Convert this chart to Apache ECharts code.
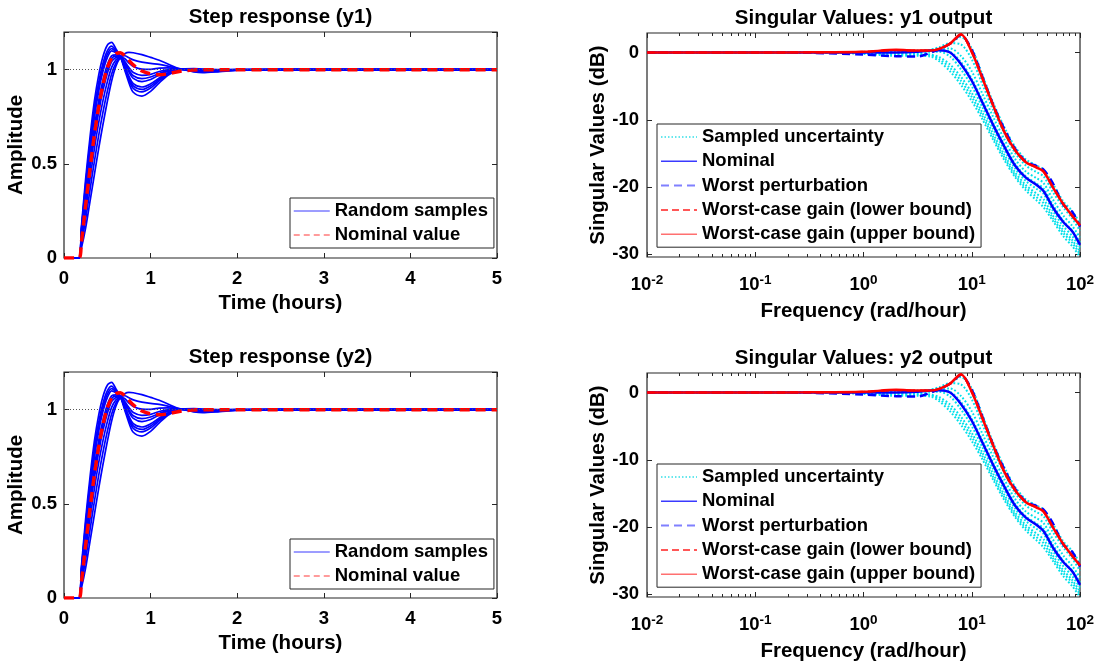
<!DOCTYPE html>
<html>
<head>
<meta charset="utf-8">
<script src="https://cdn.jsdelivr.net/npm/echarts@6/dist/echarts.min.js"></script>
<style>
html,body{margin:0;padding:0;background:#ffffff;}
#chart{width:1104px;height:664px;}
</style>
</head>
<body>
<div id="chart"></div>
<script>
// ---------------- DATA ----------------
// Step responses (time in hours)
const stepTime = [0, 0.17, 0.2, 0.25, 0.3, 0.35, 0.4, 0.45, 0.5, 0.55, 0.6, 0.65, 0.7, 0.75, 0.8, 0.9, 1.0, 1.1, 1.2, 1.3, 1.4, 1.5, 1.6, 1.8, 2.0, 2.5, 3, 4, 5];
const randomSamples = [
  [0,0,.16,.42,.64,.83,.97,1.07,1.13,1.145, 1.11,1.07,1.00,.93,.88,.86,.885,.93,.97,.995, 1.005,1.006,1.003,1.0,1.0,1,1,1,1],
  [0,0,.149,.394,.606,.791,.931,1.034,1.10,1.125, 1.101,1.07,1.009,.946,.901,.882,.903,.942,.976,.997, 1.004,1.004,1.001,.999,1.0,1,1,1,1],
  [0,0,.142,.378,.586,.768,.908,1.012,1.082,1.112, 1.096,1.069,1.014,.956,.914,.895,.914,.949,.98,.997, 1.004,1.003,1.0,.998,1.0,1,1,1,1],
  [0,0,.136,.363,.565,.744,.884,.991,1.064,1.10, 1.09,1.069,1.020,.966,.926,.908,.925,.956,.983,.998, 1.003,1.002,.999,.998,.999,1,1,1,1],
  [0,0,.122,.329,.521,.694,.834,.944,1.025,1.073, 1.079,1.068,1.032,.987,.954,.937,.948,.972,.991,1.0, 1.003,1.0,.996,.997,.999,1,1,1,1],
  [0,0,.114,.311,.497,.666,.806,.919,1.004,1.059, 1.072,1.068,1.038,.998,.968,.952,.961,.98,.995,1.001, 1.002,.998,.995,.996,.999,1,1,1,1],
  [0,0,.105,.29,.47,.635,.775,.89,.98,1.043, 1.065,1.068,1.045,1.011,.985,.97,.975,.99,1.0,1.003, 1.002,.997,.994,.995,.998,1,1,1,1],
  [0,0,.089,.251,.419,.577,.717,.836,.935,1.012, 1.052,1.067,1.059,1.035,1.017,1.003,1.002,1.008,1.009,1.005, 1.0,.994,.991,.994,.998,1,1,1,1],
  [0,0,.07,.207,.361,.510,.650,.775,.884,.977, 1.036,1.066,1.074,1.063,1.052,1.040,1.033,1.028,1.019,1.007, .999,.991,.987,.992,.997,1,1,1,1],
  [0,0,.05,.16,.30,.44,.58,.71,.83,.94, 1.02,1.065,1.085,1.092,1.09,1.08,1.065,1.05,1.03,1.01, .998,.988,.984,.99,.997,1,1,1,1]
];
const nominalStep = [0,0,.08,.28,.47,.65,.80,.92,1.01,1.06, 1.085,1.09,1.075,1.05,1.025,.993,.978,.973,.978,.988, .995,.998,1.0,1.0,1.0,1,1,1,1];
const steadyStateValue = 1;
const stepTimeTicks = [0, 1, 2, 3, 4, 5];
const stepAmpTicks = [0, 0.5, 1];

// Singular values (frequency in rad/hour, values in dB)
const svFreq = [0.01, 0.1, 0.316, 1, 2, 3.16, 4.17, 5.01, 6.31, 7.94, 10, 12.6, 15.8, 20, 25.1, 31.6, 39.8, 46, 56, 70, 85, 100];
const sampledUncertainty = [
  [0,0,0,-0.2,-0.5,-0.5,-0.6,-1.3,-2.8,-4.8,-7.2,-10.0,-13.0,-16.0,-18.5,-20.5,-22.0,-23.0,-25.0,-27.3,-28.8,-30.4],
  [0,0,0,-0.1,-0.3,-0.3,-0.4,-1.0,-2.3,-4.2,-6.6,-9.5,-12.6,-15.6,-18.2,-20.1,-21.5,-22.4,-24.6,-26.8,-28.3,-30.0],
  [0,0,0,-0.1,-0.2,-0.2,-0.3,-0.7,-1.8,-3.6,-6.0,-9.0,-12.1,-15.2,-17.8,-19.7,-21.0,-21.8,-24.2,-26.4,-27.9,-29.6],
  [0,0,0,0,-0.1,0,0.1,0.1,-0.6,-2.5,-5.0,-8.2,-11.4,-14.5,-17.2,-19.1,-20.3,-21.0,-23.5,-25.8,-27.3,-29.0],
  [0,0,0,0,0.1,0.2,0.3,0.4,0.1,-1.4,-3.9,-7.2,-10.5,-13.7,-16.5,-18.4,-19.5,-20.2,-22.6,-25.0,-26.5,-28.2],
  [0,0,0,0,0.1,0.2,0.4,0.6,0.6,-0.5,-2.8,-6.2,-9.6,-12.9,-15.8,-17.7,-18.7,-19.4,-21.8,-24.2,-25.8,-27.5],
  [0,0,0,0.1,0.2,0.2,0.4,0.8,1.4,1.2,-1.0,-4.8,-8.6,-12.0,-14.9,-16.8,-17.8,-18.4,-20.7,-23.0,-24.7,-26.5],
  [0,0,0,0.05,0.3,0.3,0.3,0.6,1.3,2.3,0.6,-3.4,-7.5,-11.1,-14.0,-15.9,-16.8,-17.4,-19.5,-22.1,-23.6,-25.4]
];
const nominalSV = [0,0,0,0,0,0.1,0.3,0.35,0.0,-1.7,-4.2,-7.5,-10.8,-14.0,-16.8,-18.6,-19.7,-20.6,-23.0,-25.2,-26.6,-28.6];
const worstPerturbation = [0,0,-0.05,-0.3,-0.55,-0.6,0.0,0.5,1.3,2.6,0.4,-3.7,-7.8,-11.4,-14.3,-16.2,-16.9,-17.4,-19.4,-22.6,-23.7,-25.9];
const worstLower = [0,0,0.02,0.1,0.35,0.3,0.3,0.55,1.3,2.65,0.1,-3.9,-7.9,-11.8,-14.5,-16.3,-17.1,-17.7,-20.0,-22.5,-24.3,-25.7];
const worstUpper = [0,0,0.02,0.1,0.4,0.3,0.3,0.55,1.35,2.7,0.1,-3.9,-7.9,-11.8,-14.5,-16.3,-17.1,-17.7,-20.0,-22.5,-24.3,-25.7];
const svFreqTicks = [0.01, 0.1, 1, 10, 100];
const svFreqTickExp = ['-2', '-1', '0', '1', '2'];
const svDbTicks = [-30, -20, -10, 0];

const titles = ['Step response (y1)', 'Singular Values: y1 output', 'Step response (y2)', 'Singular Values: y2 output'];

// ---------------- STYLE / LAYOUT ----------------
const FONT = '"Liberation Sans", Arial, Helvetica, sans-serif';
const AXC = '#262626';
const TXT = '#000000';
const gridBoxes = [
  {left: 64, top: 32, width: 433, height: 226},
  {left: 647, top: 33, width: 433, height: 224},
  {left: 64, top: 372, width: 433, height: 226},
  {left: 647, top: 373, width: 433, height: 224}
];
const labelFont = {fontFamily: FONT, fontSize: 18.5, fontWeight: 'bold', color: TXT};
const nameFont = {fontFamily: FONT, fontSize: 20.5, fontWeight: 'bold', color: TXT};

function tickStyle(len) { return {show: true, inside: true, length: len, lineStyle: {color: AXC, width: 1}}; }
const hiddenLine = {show: false, onZero: false};

function stepXAxis(g, mirror) {
  return {
    type: 'value', gridIndex: g, position: mirror ? 'top' : 'bottom',
    min: stepTimeTicks[0], max: stepTimeTicks[stepTimeTicks.length - 1], interval: 1,
    name: mirror ? '' : 'Time (hours)', nameLocation: 'middle', nameGap: 35, nameTextStyle: nameFont,
    axisLine: hiddenLine, axisTick: tickStyle(5), splitLine: {show: false},
    axisLabel: Object.assign({show: !mirror, margin: 11}, labelFont)
  };
}
function stepYAxis(g, mirror) {
  return {
    type: 'value', gridIndex: g, position: mirror ? 'right' : 'left',
    min: 0, max: 1.2, interval: 0.5,
    name: mirror ? '' : 'Amplitude', nameLocation: 'middle', nameGap: 37, nameTextStyle: nameFont,
    axisLine: hiddenLine, axisTick: tickStyle(5), splitLine: {show: false},
    axisLabel: Object.assign({show: !mirror, margin: 7,
      formatter: function (v) { return stepAmpTicks.some(t => Math.abs(t - v) < 1e-9) ? String(v) : ''; }}, labelFont)
  };
}
function svXAxis(g, mirror) {
  return {
    type: 'log', logBase: 10, gridIndex: g, position: mirror ? 'top' : 'bottom',
    min: svFreqTicks[0], max: svFreqTicks[svFreqTicks.length - 1],
    name: mirror ? '' : 'Frequency (rad/hour)', nameLocation: 'middle', nameGap: 44, nameTextStyle: nameFont,
    axisLine: hiddenLine, axisTick: tickStyle(5),
    minorTick: {show: true, splitNumber: 9, length: 3, lineStyle: {color: AXC, width: 1}},
    splitLine: {show: false}, minorSplitLine: {show: false},
    axisLabel: {
      show: !mirror, margin: 16,
      formatter: function (v) {
        for (let i = 0; i < svFreqTicks.length; i++) {
          if (Math.abs(Math.log10(v) - Math.log10(svFreqTicks[i])) < 1e-6) return '{b|10}{s|' + svFreqTickExp[i] + '}';
        }
        return '';
      },
      rich: {
        b: {fontFamily: FONT, fontSize: 18.5, fontWeight: 'bold', color: TXT},
        s: {fontFamily: FONT, fontSize: 13.5, fontWeight: 'bold', color: TXT, padding: [0, 0, 9, 0]}
      }
    }
  };
}
function svYAxis(g, mirror) {
  return {
    type: 'value', gridIndex: g, position: mirror ? 'right' : 'left',
    min: -30.4, max: 2.9,
    name: mirror ? '' : 'Singular Values (dB)', nameLocation: 'middle', nameGap: 36, nameTextStyle: nameFont,
    axisLine: hiddenLine, axisTick: Object.assign(tickStyle(5), {customValues: svDbTicks}), splitLine: {show: false},
    axisLabel: Object.assign({show: !mirror, margin: 8, customValues: svDbTicks}, labelFont)
  };
}

const xAxes = [], yAxes = [];
[0, 1, 2, 3].forEach(g => {
  const isStep = (g % 2 === 0);
  xAxes.push(isStep ? stepXAxis(g, false) : svXAxis(g, false));
  xAxes.push(isStep ? stepXAxis(g, true) : svXAxis(g, true));
  yAxes.push(isStep ? stepYAxis(g, false) : svYAxis(g, false));
  yAxes.push(isStep ? stepYAxis(g, true) : svYAxis(g, true));
});

function pairs(xs, ys) { return xs.map((x, i) => [x, ys[i]]); }
function lineSeries(name, g, xs, ys, color, width, type, smooth, z) {
  return {
    type: 'line', name: name, xAxisIndex: 2 * g, yAxisIndex: 2 * g,
    data: pairs(xs, ys), symbol: 'none', showSymbol: false, smooth: smooth,
    lineStyle: {color: color, width: width, type: type}, itemStyle: {color: color},
    silent: true, animation: false, z: z, clip: true
  };
}

const series = [];
[0, 2].forEach(g => {
  series.push({
    type: 'line', name: 'steady', xAxisIndex: 2 * g, yAxisIndex: 2 * g, data: [], silent: true, z: 1,
    markLine: {silent: true, symbol: 'none', label: {show: false}, animation: false,
      lineStyle: {color: '#555555', width: 1, type: [1, 2]}, data: [{yAxis: steadyStateValue}]}
  });
  randomSamples.forEach(s => series.push(lineSeries('Random samples', g, stepTime, s, '#0000ff', 1.7, 'solid', 0.3, 2)));
  series.push(lineSeries('Nominal value', g, stepTime, nominalStep, '#ff0000', 3.5, [10, 6], 0.3, 3));
});
[1, 3].forEach(g => {
  sampledUncertainty.forEach(s => series.push(lineSeries('Sampled uncertainty', g, svFreq, s, '#00e0ea', 2, [1.8, 2], 0.3, 2)));
  series.push(lineSeries('Nominal', g, svFreq, nominalSV, '#0000ff', 2.5, 'solid', 0.3, 3));
  series.push(lineSeries('Worst perturbation', g, svFreq, worstPerturbation, '#0000ff', 2.5, [8, 5], 0.3, 3));
  series.push(lineSeries('Worst-case gain (lower bound)', g, svFreq, worstLower, '#ff0000', 2.2, [8, 5], 0.3, 3));
  series.push(lineSeries('Worst-case gain (upper bound)', g, svFreq, worstUpper, '#ff0000', 2.5, 'solid', 0.3, 3));
});

function legendCfg(left, top, items, gap) {
  return {
    left: left, top: top, orient: 'vertical', itemWidth: 36, itemHeight: 14, itemGap: gap,
    padding: [3, 6, 3, 3], borderColor: AXC, borderWidth: 1, backgroundColor: '#ffffff', borderRadius: 0,
    textStyle: {fontFamily: FONT, fontSize: 18.5, fontWeight: 'bold', color: TXT, lineHeight: 20},
    selectedMode: false, data: items
  };
}
const noSymbol = {opacity: 0, borderWidth: 0};
const stepLegendItems = [
  {name: 'Random samples', itemStyle: noSymbol, lineStyle: {color: '#3a3aff', width: 1, type: 'solid'}},
  {name: 'Nominal value', itemStyle: noSymbol, lineStyle: {color: '#ff7b7b', width: 1.5, type: [6, 4]}}
];
const svLegendItems = [
  {name: 'Sampled uncertainty', itemStyle: noSymbol, lineStyle: {color: '#33e0e8', width: 1.5, type: [1.5, 2]}},
  {name: 'Nominal', itemStyle: noSymbol, lineStyle: {color: '#3a3aff', width: 1.5, type: 'solid'}},
  {name: 'Worst perturbation', itemStyle: noSymbol, lineStyle: {color: '#8080ff', width: 2, type: [8, 5]}},
  {name: 'Worst-case gain (lower bound)', itemStyle: noSymbol, lineStyle: {color: '#ff2020', width: 1.5, type: [7, 4]}},
  {name: 'Worst-case gain (upper bound)', itemStyle: noSymbol, lineStyle: {color: '#ff7070', width: 1.5, type: 'solid'}}
];

const option = {
  animation: false,
  backgroundColor: '#ffffff',
  title: gridBoxes.map((b, i) => ({
    text: titles[i], left: b.left + b.width / 2, top: b.top - 25, textAlign: 'center', padding: 0,
    textStyle: {fontFamily: FONT, fontSize: 20.5, fontWeight: 'bold', color: TXT}
  })),
  grid: gridBoxes.map(b => Object.assign({show: true, borderColor: AXC, borderWidth: 1.2, backgroundColor: '#ffffff', containLabel: false}, b)),
  xAxis: xAxes,
  yAxis: yAxes,
  legend: [
    legendCfg(290, 198, stepLegendItems, 4),
    legendCfg(657, 124, svLegendItems, 4.3),
    legendCfg(290, 539, stepLegendItems, 4),
    legendCfg(657, 464, svLegendItems, 4.3)
  ],
  series: series
};

const chart = echarts.init(document.getElementById('chart'), null, {renderer: 'canvas'});
chart.setOption(option);
</script>
</body>
</html>
